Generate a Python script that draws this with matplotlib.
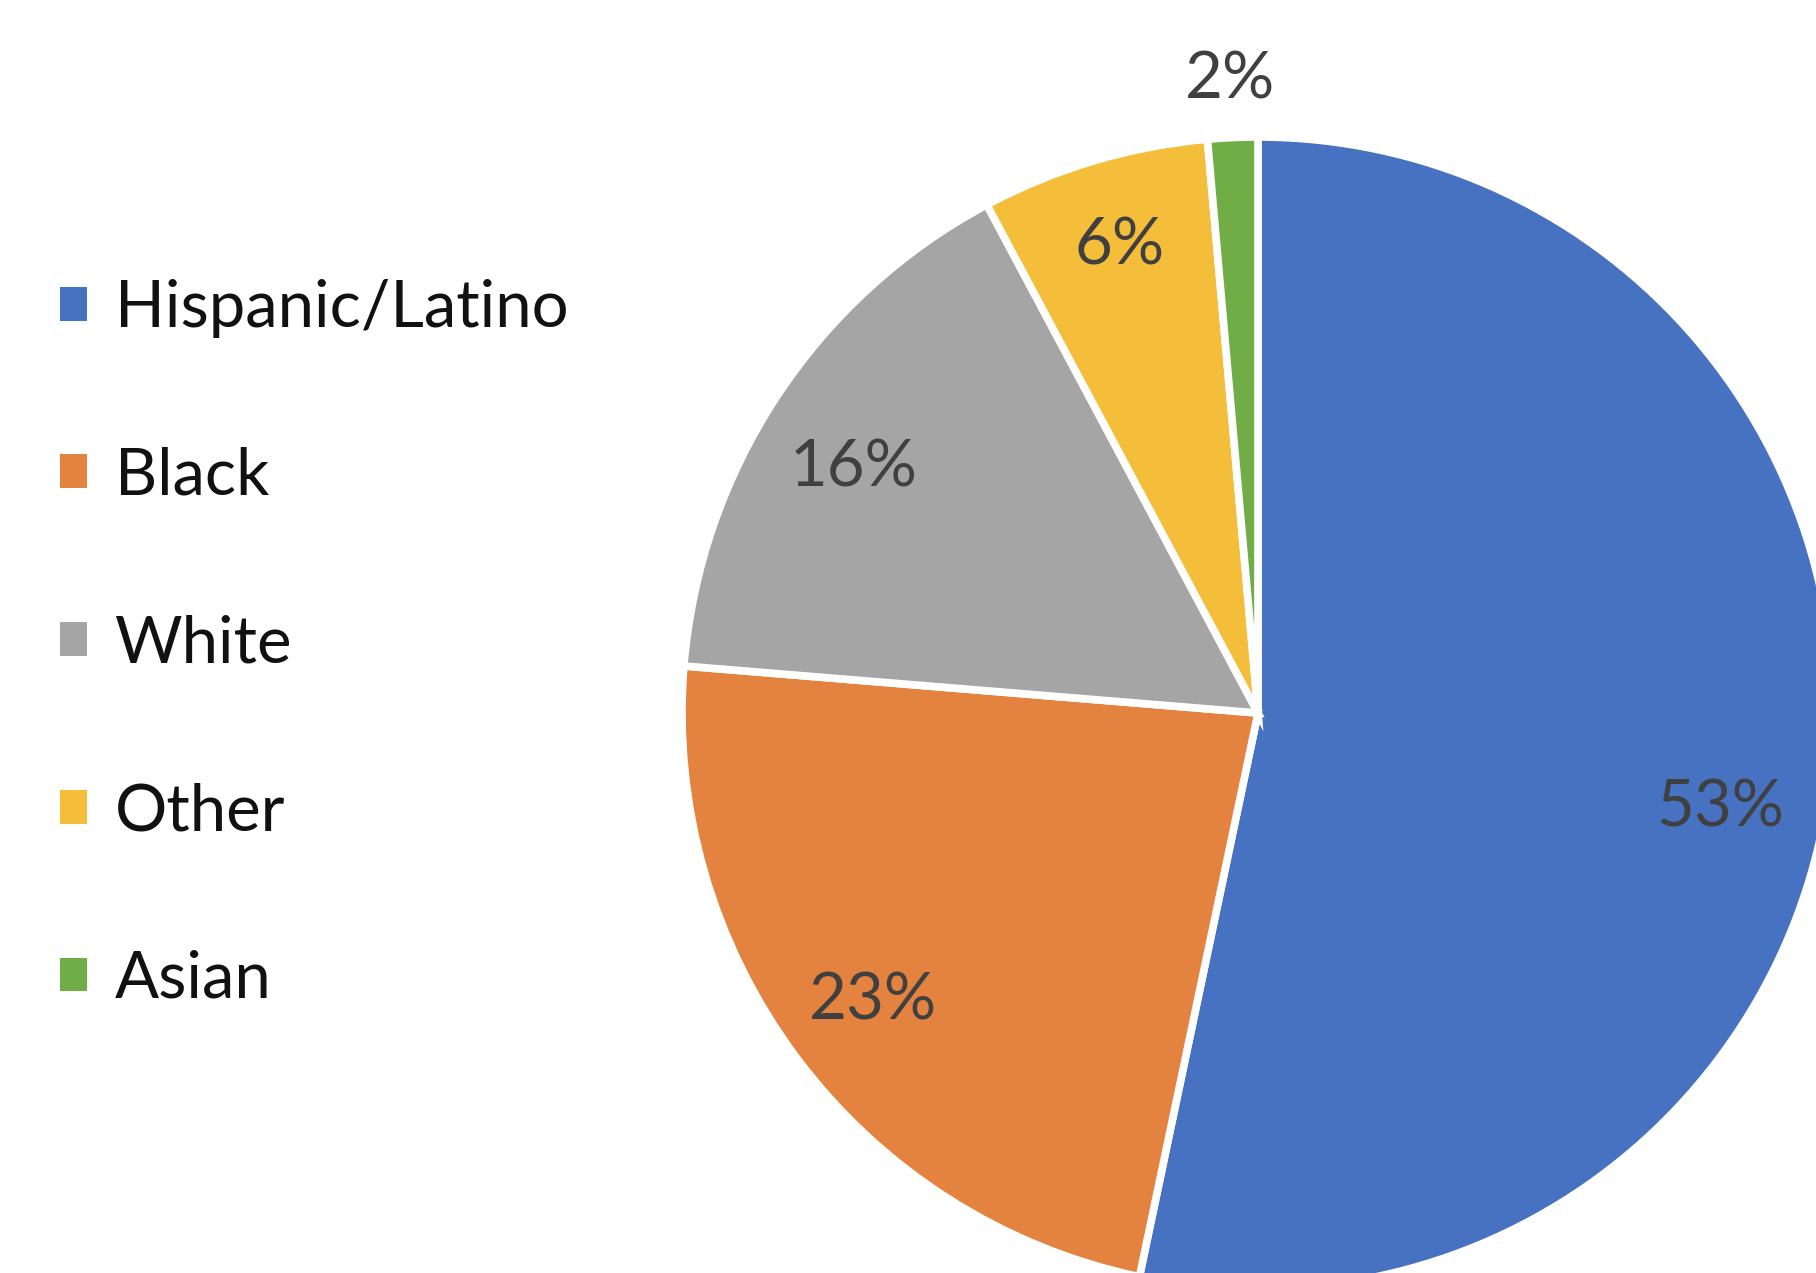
import matplotlib
import matplotlib.pyplot as plt
import numpy as np
matplotlib.use("Agg")

plt.rcParams["font.family"] = ["Lato", "DejaVu Sans"]

# data
groups = ["Hispanic/Latino", "Black", "White", "Other", "Asian"]
shares = [53.3, 23.0, 15.9, 6.4, 1.4]
pct_labels = ["53%", "23%", "16%", "6%", "2%"]
colors = ["#4672c1", "#e4823f", "#a5a5a5", "#f4bd3a", "#70ad47"]

# label placement: radius (fraction of pie radius) and angle nudge in degrees
label_r = [0.82, 0.835, 0.82, 0.845, 1.10]
label_nudge = [-5.7, 0, 2.1, 0, 0]

W, H = 1816, 1273
cx, cy, R = 1258, 713, 576  # pie centre and radius in px

fig = plt.figure(figsize=(W / 100, H / 100), dpi=100)
ax = fig.add_axes([0, 0, 1, 1])

wedges, _ = ax.pie(shares, colors=colors, startangle=90, counterclock=False,
                   radius=1, center=(0, 0),
                   wedgeprops=dict(edgecolor="white", linewidth=5.5))

ax.set_aspect("auto")
ax.set_xlim(-cx / R, (W - cx) / R)
ax.set_ylim(-(H - cy) / R, cy / R)
ax.axis("off")

# percent labels at the middle angle of each wedge
for w, txt, r, nudge in zip(wedges, pct_labels, label_r, label_nudge):
    mid = np.deg2rad((w.theta1 + w.theta2) / 2 + nudge)
    ax.text(r * np.cos(mid), r * np.sin(mid), txt, ha="center", va="center",
            fontsize=47, color="#404040")

leg = ax.legend(wedges, groups, loc="upper left",
                bbox_to_anchor=(60 / W, 1 - 279 / H),
                bbox_transform=fig.transFigure,
                frameon=False, fontsize=47,
                handlelength=0.42, handleheight=0.42, handletextpad=0.42,
                labelspacing=1.665, borderaxespad=0, borderpad=0)
for t in leg.get_texts():
    t.set_color("#111111")
for h in leg.legend_handles:
    h.set_linewidth(0)

fig.savefig("out.png", dpi=100)
plt.close(fig)
